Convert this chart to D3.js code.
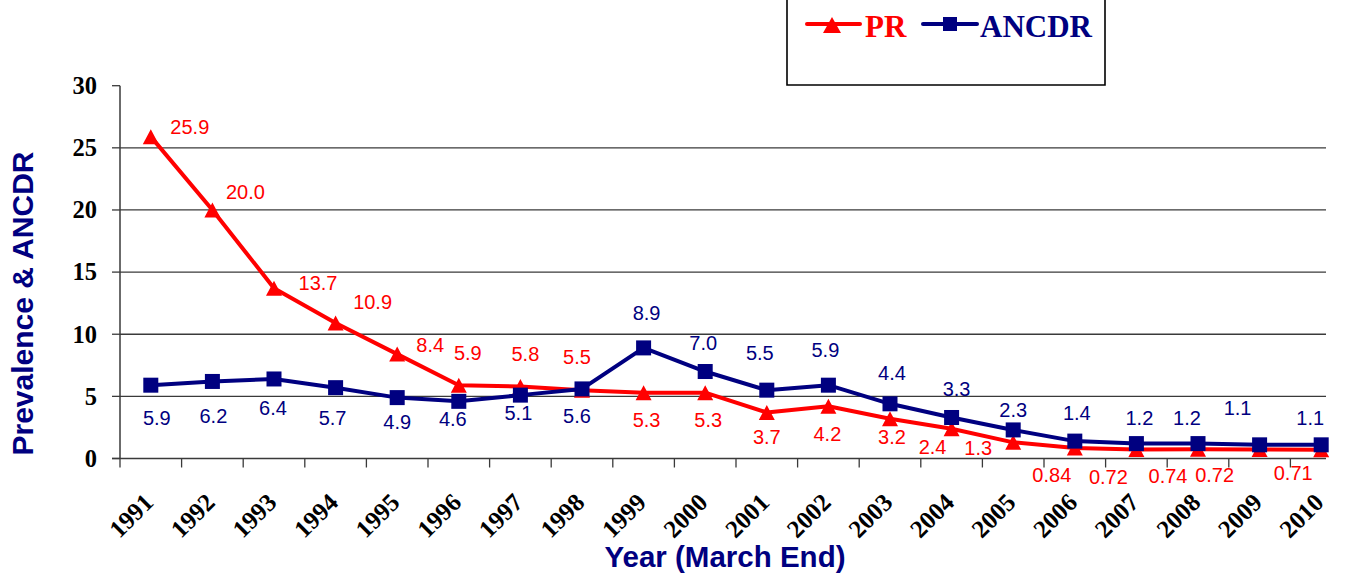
<!DOCTYPE html>
<html>
<head>
<meta charset="utf-8">
<script src="https://cdn.jsdelivr.net/npm/d3@7"></script>
<style>
  html, body { margin: 0; padding: 0; background: #fff; }
  svg { display: block; }
</style>
</head>
<body>
<svg id="chart" width="1345" height="577"></svg>
<script>
const years = ["1991","1992","1993","1994","1995","1996","1997","1998","1999","2000",
               "2001","2002","2003","2004","2005","2006","2007","2008","2009","2010"];
const prValues = [25.9, 20.0, 13.7, 10.9, 8.4, 5.9, 5.8, 5.5, 5.3, 5.3,
                  3.7, 4.2, 3.2, 2.4, 1.3, 0.84, 0.72, 0.74, 0.72, 0.71];
const prLabels = ["25.9","20.0","13.7","10.9","8.4","5.9","5.8","5.5","5.3","5.3",
                  "3.7","4.2","3.2","2.4","1.3","0.84","0.72","0.74","0.72","0.71"];
const ancdrValues = [5.9, 6.2, 6.4, 5.7, 4.9, 4.6, 5.1, 5.6, 8.9, 7.0,
                     5.5, 5.9, 4.4, 3.3, 2.3, 1.4, 1.2, 1.2, 1.1, 1.1];
const ancdrLabels = ["5.9","6.2","6.4","5.7","4.9","4.6","5.1","5.6","8.9","7.0",
                     "5.5","5.9","4.4","3.3","2.3","1.4","1.2","1.2","1.1","1.1"];
const yTicks = [0, 5, 10, 15, 20, 25, 30];
const seriesNames = ["PR", "ANCDR"];

// label placement offsets (styling, relative to each point)
const prLabelOffsets = [[39,-10],[33,-18],[44,-5],[37,-21],[33,-9],[9,-32],[5,-33],[-5,-33],[3,27],[3,27],
                        [0,24],[-1,27],[2,18],[-19,18],[-35,5],[-23,27],[-28,27],[-30,26],[-45,25],[-28,23]];
const ancdrLabelOffsets = [[6,33],[1,34],[-1,29],[-3,30],[0,24],[-6,17],[-2,18],[-5,27],[3,-35],[-2,-29],
                           [-7,-37],[-3,-35],[2,-31],[5,-29],[0,-20],[2,-28],[3,-26],[-11,-26],[-22,-37],[-11,-27]];

const RED = "#ff0000", NAVY = "#000080";
const svg = d3.select("#chart");

const plotLeft = 120, plotRight = 1326, bandEnd = 1352;
const x = d3.scaleBand().domain(years).range([plotLeft, bandEnd]).padding(0);
const y = d3.scaleLinear().domain([0, 30]).range([458.5, 85.7]);
const cx = d => x(d) + x.bandwidth() / 2;

// gridlines
svg.append("g").selectAll("line")
  .data(yTicks.filter(t => t > 0 && t < 30))
  .join("line")
  .attr("x1", plotLeft).attr("x2", plotRight)
  .attr("y1", d => y(d)).attr("y2", d => y(d))
  .attr("stroke", "#3a3a3a").attr("stroke-width", 1.3);

// y axis
const yAxis = svg.append("g");
yAxis.append("line").attr("x1", plotLeft).attr("x2", plotLeft)
  .attr("y1", y(30)).attr("y2", y(0)).attr("stroke", "#3a3a3a").attr("stroke-width", 1.5);
yAxis.selectAll("line.tick").data(yTicks).join("line").attr("class","tick")
  .attr("x1", plotLeft - 8).attr("x2", plotLeft)
  .attr("y1", d => y(d)).attr("y2", d => y(d))
  .attr("stroke", "#3a3a3a").attr("stroke-width", 1.3);
yAxis.selectAll("text").data(yTicks).join("text")
  .attr("x", 97).attr("y", d => y(d)).attr("dy", "0.34em")
  .attr("text-anchor", "end")
  .attr("font-family", "'Liberation Serif','Times New Roman',serif")
  .attr("font-weight", "bold").attr("font-size", 24.5).attr("fill", "#000")
  .text(d => d);

// x axis
const xAxis = svg.append("g");
xAxis.append("line").attr("x1", plotLeft - 8).attr("x2", plotRight)
  .attr("y1", y(0)).attr("y2", y(0)).attr("stroke", "#3a3a3a").attr("stroke-width", 1.5);
xAxis.selectAll("line.tick").data(years).join("line").attr("class","tick")
  .attr("x1", d => x(d)).attr("x2", d => x(d))
  .attr("y1", y(0)).attr("y2", y(0) + 9)
  .attr("stroke", "#3a3a3a").attr("stroke-width", 1.3);
xAxis.selectAll("text").data(years).join("text")
  .attr("transform", d => `translate(${cx(d) + 4},${504}) rotate(-45)`)
  .attr("text-anchor", "end")
  .attr("font-family", "'Liberation Serif','Times New Roman',serif")
  .attr("font-weight", "bold").attr("font-size", 25).attr("fill", "#000")
  .text(d => d);

// axis titles
svg.append("text")
  .attr("x", 725).attr("y", 567).attr("text-anchor", "middle")
  .attr("font-family", "'Liberation Sans',Arial,sans-serif")
  .attr("font-weight", "bold").attr("font-size", 29.5).attr("fill", NAVY)
  .text("Year (March End)");
svg.append("text")
  .attr("transform", "translate(33,303.5) rotate(-90)")
  .attr("text-anchor", "middle")
  .attr("font-family", "'Liberation Sans',Arial,sans-serif")
  .attr("font-weight", "bold").attr("font-size", 30).attr("fill", NAVY)
  .text("Prevalence & ANCDR");

// lines
const line = d3.line().x((d, i) => cx(years[i])).y(d => y(d));
const triPath = "M0,-7.5L8,7.5L-8,7.5Z";

// PR series
svg.append("path").datum(prValues).attr("d", line)
  .attr("fill", "none").attr("stroke", RED).attr("stroke-width", 4).attr("stroke-linejoin", "round");
svg.append("g").selectAll("path").data(prValues).join("path")
  .attr("d", triPath)
  .attr("transform", (d, i) => `translate(${cx(years[i])},${y(d)})`)
  .attr("fill", RED);

// ANCDR series
svg.append("path").datum(ancdrValues).attr("d", line)
  .attr("fill", "none").attr("stroke", NAVY).attr("stroke-width", 4).attr("stroke-linejoin", "round");
svg.append("g").selectAll("rect").data(ancdrValues).join("rect")
  .attr("x", (d, i) => cx(years[i]) - 7.5).attr("y", d => y(d) - 7.5)
  .attr("width", 15).attr("height", 15).attr("fill", NAVY);

// data labels
svg.append("g").selectAll("text").data(prValues).join("text")
  .attr("x", (d, i) => cx(years[i]) + prLabelOffsets[i][0])
  .attr("y", (d, i) => y(d) + prLabelOffsets[i][1])
  .attr("dy", "0.36em").attr("text-anchor", "middle")
  .attr("font-family", "'Liberation Sans',Arial,sans-serif")
  .attr("font-size", 20).attr("fill", RED)
  .text((d, i) => prLabels[i]);
svg.append("g").selectAll("text").data(ancdrValues).join("text")
  .attr("x", (d, i) => cx(years[i]) + ancdrLabelOffsets[i][0])
  .attr("y", (d, i) => y(d) + ancdrLabelOffsets[i][1])
  .attr("dy", "0.36em").attr("text-anchor", "middle")
  .attr("font-family", "'Liberation Sans',Arial,sans-serif")
  .attr("font-size", 20).attr("fill", NAVY)
  .text((d, i) => ancdrLabels[i]);

// legend box (top edge cut off)
svg.append("path")
  .attr("d", "M787,-2L787,85L1105,85L1105,-2")
  .attr("fill", "none").attr("stroke", "#000").attr("stroke-width", 1.6);
const legend = svg.append("g");
const legendItems = [
  { name: seriesNames[0], color: RED, lx1: 807, lx2: 860, mx: 832, tx: 865, marker: "tri" },
  { name: seriesNames[1], color: NAVY, lx1: 923, lx2: 977, mx: 950, tx: 980, marker: "sq" }
];
legendItems.forEach(it => {
  legend.append("line").attr("x1", it.lx1).attr("x2", it.lx2).attr("y1", 24).attr("y2", 24)
    .attr("stroke", it.color).attr("stroke-width", 4).attr("stroke-linecap", "round");
  if (it.marker === "tri") {
    legend.append("path").attr("d", "M0,-8L9,8L-9,8Z")
      .attr("transform", `translate(${it.mx},25)`).attr("fill", it.color);
  } else {
    legend.append("rect").attr("x", it.mx - 7).attr("y", 17).attr("width", 14).attr("height", 14)
      .attr("fill", it.color);
  }
  legend.append("text").attr("x", it.tx).attr("y", 37)
    .attr("font-family", "'Liberation Serif','Times New Roman',serif")
    .attr("font-weight", "bold").attr("font-size", 31).attr("fill", it.color)
    .text(it.name);
});
</script>
</body>
</html>
